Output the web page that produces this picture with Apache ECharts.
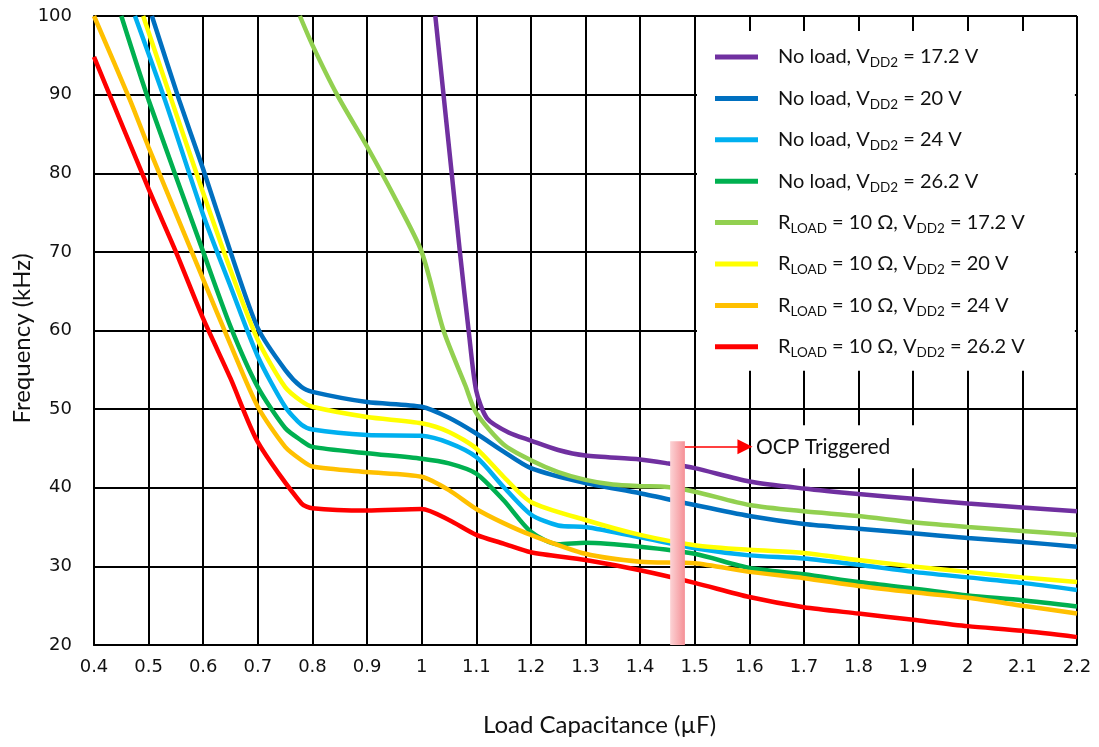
<!DOCTYPE html>
<html lang="en">
  <head>
    <meta charset="UTF-8" />
    <title>Frequency vs Load Capacitance</title>
    <script src="https://cdn.jsdelivr.net/npm/echarts@6/dist/echarts.min.js"></script>
    <style>
      html,
      body {
        margin: 0;
        padding: 0;
        background: #fff;
      }
      #chart {
        width: 1099px;
        height: 747px;
      }
    </style>
  </head>
  <body>
    <div id="chart"></div>
    <script>
      // series names (legend order)
      const names = [
        "No load, VDD2 = 17.2 V",
        "No load, VDD2 = 20 V",
        "No load, VDD2 = 24 V",
        "No load, VDD2 = 26.2 V",
        "RLOAD = 10 Ω, VDD2 = 17.2 V",
        "RLOAD = 10 Ω, VDD2 = 20 V",
        "RLOAD = 10 Ω, VDD2 = 24 V",
        "RLOAD = 10 Ω, VDD2 = 26.2 V",
      ];
      const colors = ["#7030A0", "#0070C0", "#00B0F0", "#00B050", "#92D050", "#FFFF00", "#FFC000", "#FF0000"];

      // [capacitance uF, frequency kHz]
      const noLoad172 = [[1.025, 100], [1.04, 90], [1.055, 80], [1.07, 70], [1.086, 60], [1.1, 52.3], [1.12, 48.8], [1.16, 47], [1.2, 46], [1.25, 44.8], [1.3, 44.1], [1.4, 43.6], [1.45, 43.1], [1.5, 42.5], [1.6, 40.8], [1.7, 39.9], [1.8, 39.2], [1.9, 38.6], [2.0, 38.0], [2.1, 37.5], [2.2, 37.0]];
      const noLoad20 = [[0.506, 100], [0.556, 89.3], [0.6, 80.5], [0.65, 70], [0.7, 60.3], [0.75, 55], [0.78, 52.8], [0.8, 52.2], [0.9, 50.9], [1.0, 50.3], [1.05, 48.9], [1.1, 46.9], [1.15, 44.6], [1.2, 42.5], [1.3, 40.6], [1.4, 39.3], [1.5, 37.8], [1.6, 36.4], [1.7, 35.4], [1.8, 34.8], [1.9, 34.2], [2.0, 33.6], [2.1, 33.1], [2.2, 32.5]];
      const noLoad24 = [[0.475, 100], [0.53, 89.3], [0.6, 74.7], [0.65, 65.6], [0.7, 56.7], [0.75, 50.3], [0.78, 48], [0.8, 47.4], [0.9, 46.7], [1.0, 46.6], [1.05, 45.7], [1.1, 43.9], [1.15, 40.1], [1.2, 36.6], [1.25, 35.2], [1.3, 35], [1.4, 33.7], [1.5, 32.3], [1.6, 31.4], [1.7, 31], [1.8, 30.2], [1.9, 29.3], [2.0, 28.6], [2.1, 27.9], [2.2, 27]];
      const noLoad262 = [[0.45, 100], [0.5, 89.3], [0.6, 70], [0.65, 60.5], [0.7, 52.8], [0.75, 47.6], [0.78, 46], [0.8, 45.2], [0.9, 44.4], [1.0, 43.7], [1.05, 43.1], [1.1, 41.8], [1.15, 38.4], [1.2, 34.4], [1.25, 32.8], [1.3, 33], [1.4, 32.5], [1.5, 31.6], [1.6, 29.8], [1.7, 29], [1.8, 28], [1.9, 27.2], [2.0, 26.3], [2.1, 25.7], [2.2, 24.9]];
      const rLoad172 = [[0.777, 100], [0.8, 96.3], [0.845, 90], [0.9, 83.4], [0.95, 77], [1.0, 70], [1.04, 60], [1.08, 53], [1.1, 49.5], [1.15, 45.5], [1.2, 43.5], [1.25, 42], [1.3, 41], [1.35, 40.4], [1.4, 40.2], [1.45, 40.1], [1.5, 39.5], [1.6, 37.8], [1.7, 37.0], [1.8, 36.4], [1.9, 35.6], [2.0, 35.0], [2.1, 34.5], [2.2, 34.0]];
      const rLoad20 = [[0.49, 100], [0.542, 89.3], [0.6, 77.5], [0.65, 67.7], [0.7, 58.8], [0.75, 52.8], [0.78, 51], [0.8, 50.3], [0.9, 49], [1.0, 48.2], [1.05, 47.1], [1.1, 45], [1.15, 41.4], [1.2, 38.2], [1.3, 35.9], [1.4, 34], [1.5, 32.7], [1.6, 32.1], [1.7, 31.7], [1.8, 30.8], [1.9, 30], [2.0, 29.3], [2.1, 28.6], [2.2, 28]];
      const rLoad24 = [[0.4, 100], [0.466, 89.3], [0.5, 83.3], [0.6, 66.5], [0.65, 58.2], [0.7, 50.3], [0.75, 45.2], [0.78, 43.5], [0.8, 42.7], [0.9, 42], [1.0, 41.4], [1.05, 39.7], [1.1, 37.3], [1.15, 35.5], [1.2, 34], [1.3, 31.6], [1.4, 30.6], [1.5, 30.4], [1.6, 29.3], [1.7, 28.5], [1.8, 27.5], [1.9, 26.7], [2.0, 26], [2.1, 25], [2.2, 24]];
      const rLoad262 = [[0.4, 94.8], [0.5, 78], [0.55, 70], [0.6, 61.5], [0.65, 53.9], [0.7, 45.8], [0.78, 38], [0.8, 37.4], [0.9, 37.1], [1.0, 37.3], [1.05, 35.9], [1.1, 34], [1.15, 32.9], [1.2, 31.8], [1.3, 30.8], [1.4, 29.5], [1.5, 27.9], [1.6, 26.1], [1.7, 24.8], [1.8, 24], [1.9, 23.2], [2.0, 22.4], [2.1, 21.8], [2.2, 21]];
      const seriesData = [noLoad172, noLoad20, noLoad24, noLoad262, rLoad172, rLoad20, rLoad24, rLoad262];

      // OCP marker: capacitance range of the bar, its top, arrow start/end and height
      const ocpBar = [1.455, 1.482];
      const ocpTop = 45.9;
      const ocpArrow = [1.482, 1.592, 45.2];

      const chart = echarts.init(document.getElementById("chart"));

      const series = names.map((n, i) => ({
        name: n,
        type: "line",
        data: seriesData[i],
        color: colors[i],
        smooth: 0.25,
        showSymbol: false,
        lineStyle: { width: 4.5, color: colors[i] },
      }));

      series.push({
        name: "ocp",
        type: "scatter",
        data: [],
        z: 10,
        markArea: {
          silent: true,
          z: 10,
          itemStyle: {
            color: new echarts.graphic.LinearGradient(0, 0, 1, 0, [
              { offset: 0, color: "#fcd3d5" },
              { offset: 1, color: "#f59096" },
            ]),
          },
          data: [[{ xAxis: ocpBar[0], yAxis: 20 }, { xAxis: ocpBar[1], yAxis: ocpTop }]],
        },
        markLine: {
          silent: true,
          z: 10,
          symbol: ["none", "triangle"],
          symbolSize: 15,
          lineStyle: { color: "#f00", width: 1.5, type: "solid" },
          label: {
            show: true,
            position: "end",
            formatter: "OCP Triggered",
            color: "#111",
            fontFamily: "Lato",
            fontSize: 21,
            backgroundColor: "#fff",
            padding: [11, 26, 11, 3],
            distance: 8,
          },
          data: [[{ coord: [ocpArrow[0], ocpArrow[2]] }, { coord: [ocpArrow[1], ocpArrow[2]] }]],
        },
      });

      const option = {
        animation: false,
        backgroundColor: "#fff",
        grid: { left: 94, right: 22, top: 16, bottom: 102, containLabel: false, outerBoundsMode: "none" },
        legend: {
          data: names,
          orient: "vertical",
          left: 697,
          top: 31,
          backgroundColor: "#fff",
          padding: [13, 50, 11, 18],
          icon: "rect",
          itemWidth: 43,
          itemHeight: 5,
          itemGap: 15.4,
          selectedMode: false,
          textStyle: {
            fontFamily: "Lato",
            fontSize: 20,
            color: "#111",
            lineHeight: 26,
            padding: [0, 0, 0, 15],
            rich: {
              sub: { fontFamily: "Lato", fontSize: 13.5, lineHeight: 12, verticalAlign: "bottom", color: "#111" },
            },
          },
          formatter: (n) => n.replace("RLOAD", "R{sub|LOAD}").replace("VDD2", "V{sub|DD2}"),
        },
        xAxis: {
          type: "value",
          min: 0.4,
          max: 2.2,
          interval: 0.1,
          name: "Load Capacitance (µF)",
          nameLocation: "middle",
          nameGap: 68,
          nameTextStyle: { fontFamily: "Lato", fontSize: 24, color: "#111", padding: [0, 0, 0, 28] },
          axisLine: { lineStyle: { color: "#000", width: 2 } },
          axisTick: { show: false },
          axisLabel: { fontFamily: "DejaVu Sans", fontSize: 18, color: "#111", margin: 13 },
          splitLine: { show: true, lineStyle: { color: "#000", width: 2 } },
        },
        yAxis: {
          type: "value",
          min: 20,
          max: 100,
          interval: 10,
          name: "Frequency (kHz)",
          nameLocation: "middle",
          nameGap: 60,
          nameMoveOverlap: false,
          nameTextStyle: { fontFamily: "Lato", fontSize: 24, color: "#111", padding: [0, 16, 0, 0] },
          axisLine: { show: true, lineStyle: { color: "#000", width: 2 } },
          axisTick: { show: false },
          axisLabel: { fontFamily: "DejaVu Sans", fontSize: 18, color: "#111", margin: 22 },
          splitLine: { show: true, lineStyle: { color: "#000", width: 2 } },
        },
        series: series,
      };

      chart.setOption(option);
    </script>
  </body>
</html>
